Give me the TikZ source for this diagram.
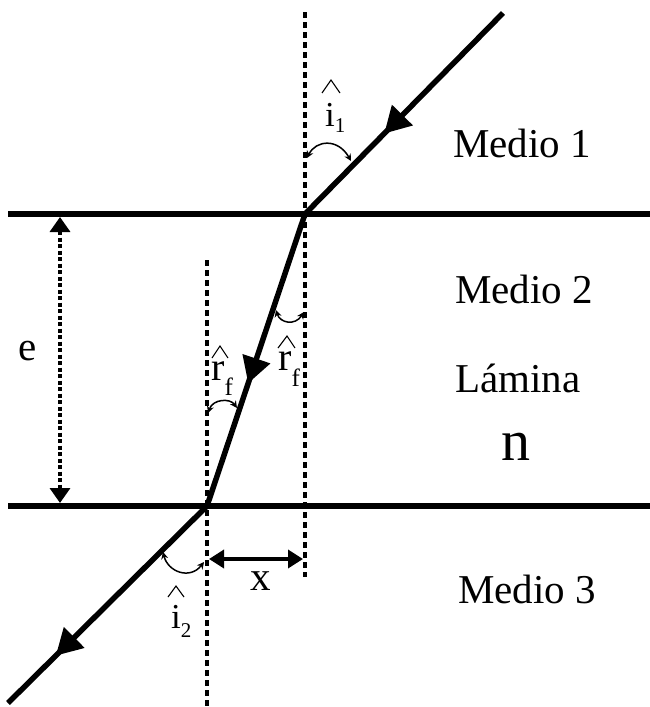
\documentclass[tikz,border=0pt]{standalone}
\usepackage{fontspec}
\setmainfont{Liberation Serif}
\usetikzlibrary{arrows.meta,decorations.markings}
\begin{document}
\begin{tikzpicture}[x=1pt,y=-1pt,
  boundary/.style={line width=5.5pt},
  ray/.style={line width=5.5pt},
  normalline/.style={line width=3.5pt, dash pattern=on 6pt off 4pt},
  midarrow/.style={postaction={decorate},
    decoration={markings, mark=at position #1 with {\arrow{Triangle[length=26pt,width=28pt]}}}},
  anglearc/.style={line width=1.5pt, {Stealth[length=7pt,width=7pt]}-{Stealth[length=7pt,width=7pt]}},
  hatmark/.style={line width=1.1pt},
  bigtext/.style={inner sep=0pt, anchor=base west, font=\fontsize{41}{48}\selectfont},
  anglelabel/.style={inner sep=0pt, anchor=base west, font=\fontsize{35}{40}\selectfont},
  dimarrow/.style={line width=3.5pt, {Triangle[length=15pt,width=20pt]}-{Triangle[length=15pt,width=20pt]}},
]
\useasboundingbox (0,0) rectangle (650,707);

% points
\coordinate (T) at (503,13);
\coordinate (A) at (305,214);
\coordinate (B) at (207,506);
\coordinate (E) at (8,703);
\coordinate (L1) at (8,214);
\coordinate (R1) at (650,214);
\coordinate (L2) at (8,506);
\coordinate (R2) at (650,506);
\coordinate (NAtop) at (305,12);
\coordinate (NAbot) at (305,577);
\coordinate (NBtop) at (207,260);
\coordinate (NBbot) at (207,707);
\coordinate (Etop) at (60,217);
\coordinate (Ebot) at (60,503);
\coordinate (Xl) at (209,559);
\coordinate (Xr) at (303,559);

% normals
\draw[normalline] (NAtop) -- (NAbot);
\draw[normalline] (NBtop) -- (NBbot);

% boundaries
\draw[boundary] (L1) -- (R1);
\draw[boundary] (L2) -- (R2);

% rays
\draw[ray, midarrow=0.6] (T) -- (A);
\draw[ray, midarrow=0.58] (A) -- (B);
\draw[ray, midarrow=0.76] (B) -- (E);

% thickness e
\draw[dimarrow, dash pattern=on 4pt off 2.5pt] (Etop) -- (Ebot);
\node[bigtext] (elabel) at (18,360) {e};

% displacement x
\draw[dimarrow, {Triangle[length=15pt,width=18pt]}-{Triangle[length=15pt,width=18pt]}] (Xl) -- (Xr);
\node[bigtext] (xlabel) at (250,590) {x};

% angle arcs
\coordinate (a1s) at (307,158);
\coordinate (a1e) at (351,161);
\draw[anglearc] (a1s) .. controls (316,140) and (338,138) .. (a1e);
\coordinate (a2s) at (163,552);
\coordinate (a2e) at (204,562);
\draw[anglearc] (a2s) .. controls (168,572) and (190,580) .. (a2e);
\coordinate (a3s) at (276,310);
\coordinate (a3e) at (304,312);
\draw[anglearc] (a3s) .. controls (280,323) and (295,326) .. (a3e);
\coordinate (a4s) at (208,413);
\coordinate (a4e) at (237,408);
\draw[anglearc] (a4s) .. controls (213,399) and (230,398) .. (a4e);

% angle labels
\node[anglelabel] (i1) at (325,126) {i{\fontsize{21}{21}\selectfont\raisebox{-6pt}{1}}};
\draw[hatmark] (322,93) -- (331,80) -- (340,93);
\node[anglelabel] (i2) at (171,628) {i{\fontsize{21}{21}\selectfont\raisebox{-9pt}{2}}};
\draw[hatmark] (168,597) -- (176,586) -- (184,597);
\node[anglelabel, font=\fontsize{40}{44}\selectfont] (rL) at (211,380) {r{\fontsize{25}{25}\selectfont\raisebox{-15pt}{f}}};
\draw[hatmark] (212,358) -- (220,346) -- (228,358);
\node[anglelabel, font=\fontsize{40}{44}\selectfont] (rR) at (278,370) {r{\fontsize{25}{25}\selectfont\raisebox{-16pt}{f}}};
\draw[hatmark] (278,348) -- (287,336) -- (295,348);

% media labels
\node[bigtext] (m1) at (453,157) {Medio 1};
\node[bigtext] (m2) at (455,303) {Medio 2};
\node[bigtext] (lam) at (455,392) {Lámina};
\node[bigtext, font=\fontsize{58}{64}\selectfont] (nlab) at (501,460) {n};
\node[bigtext] (m3) at (458,603) {Medio 3};
\end{tikzpicture}
\end{document}
